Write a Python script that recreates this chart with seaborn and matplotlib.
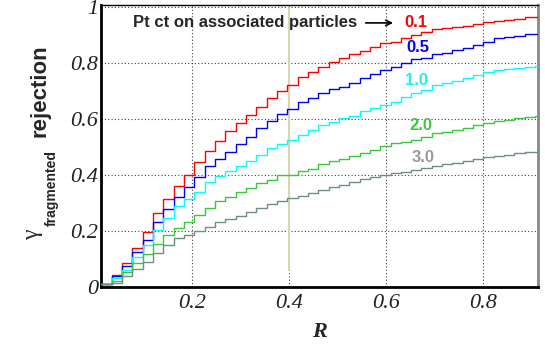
import numpy as np
import pandas as pd
import seaborn as sns
import matplotlib.pyplot as plt
from matplotlib.ticker import MultipleLocator, FixedLocator, FixedFormatter

sns.set_style("white")
plt.rcParams['font.family'] = ['Liberation Sans', 'DejaVu Sans']

# histogram binning on R (read from the step positions)
r_start = 0.0125
r_width = 0.0213

# rejection of fragmented photons per Pt cut on associated particles
cuts = ['0.1', '0.5', '1.0', '2.0', '3.0']
rej_01 = [0.01, 0.044, 0.086, 0.138, 0.196, 0.264, 0.314, 0.36, 0.40, 0.448,
          0.487, 0.523, 0.556, 0.588, 0.614, 0.643, 0.675, 0.702, 0.722, 0.75,
          0.769, 0.786, 0.804, 0.818, 0.832, 0.845, 0.857, 0.871, 0.877, 0.889,
          0.899, 0.912, 0.921, 0.925, 0.931, 0.934, 0.94, 0.946, 0.951, 0.956,
          0.959, 0.964, 0.966]
rej_05 = [0.01, 0.038, 0.074, 0.124, 0.169, 0.232, 0.28, 0.32, 0.357, 0.394,
          0.431, 0.457, 0.484, 0.511, 0.535, 0.568, 0.595, 0.617, 0.635, 0.663,
          0.675, 0.693, 0.707, 0.714, 0.729, 0.746, 0.761, 0.776, 0.788, 0.80,
          0.814, 0.82, 0.832, 0.838, 0.848, 0.856, 0.865, 0.877, 0.889, 0.893,
          0.897, 0.904, 0.905]
rej_10 = [0.01, 0.033, 0.062, 0.109, 0.149, 0.202, 0.246, 0.288, 0.315, 0.341,
          0.376, 0.395, 0.413, 0.434, 0.452, 0.473, 0.496, 0.511, 0.524, 0.542,
          0.56, 0.578, 0.59, 0.603, 0.613, 0.628, 0.639, 0.651, 0.663, 0.679,
          0.693, 0.703, 0.722, 0.729, 0.737, 0.746, 0.758, 0.767, 0.774, 0.78,
          0.784, 0.788, 0.79]
rej_20 = [0.01, 0.022, 0.053, 0.087, 0.119, 0.154, 0.185, 0.212, 0.234, 0.258,
          0.282, 0.306, 0.322, 0.338, 0.355, 0.371, 0.383, 0.399, 0.401, 0.413,
          0.423, 0.44, 0.449, 0.457, 0.468, 0.48, 0.491, 0.503, 0.514, 0.518,
          0.526, 0.537, 0.549, 0.554, 0.562, 0.569, 0.578, 0.586, 0.592, 0.598,
          0.603, 0.609, 0.612]
rej_30 = [0.01, 0.016, 0.038, 0.066, 0.09, 0.121, 0.15, 0.176, 0.187, 0.201,
          0.216, 0.231, 0.242, 0.254, 0.267, 0.282, 0.296, 0.307, 0.318, 0.325,
          0.336, 0.347, 0.356, 0.363, 0.374, 0.385, 0.392, 0.40, 0.408, 0.412,
          0.417, 0.425, 0.433, 0.44, 0.445, 0.452, 0.457, 0.464, 0.469, 0.473,
          0.478, 0.482, 0.484]
curves = [rej_01, rej_05, rej_10, rej_20, rej_30]

line_colors = ['#ff0000', '#0000ff', '#00ffff', '#3cc83c', '#6f8f7f']
text_colors = ['#ff0000', '#0000ff', '#22eeee', '#44c444', '#999999']
label_pos = [(0.661, 0.947), (0.665, 0.855), (0.663, 0.737), (0.671, 0.576), (0.677, 0.462)]

x_ticks = [0.2, 0.4, 0.6, 0.8]
x_labels = ['0.2', '0.4', '0.6', '0.8']
y_ticks = [0, 0.2, 0.4, 0.6, 0.8, 1.0]
y_labels = ['0', '0.2', '0.4', '0.6', '0.8', '1']
ref_r = 0.4

frames = []
for cut, vals in zip(cuts, curves):
    edges = r_start + r_width * np.arange(len(vals) + 1)
    frames.append(pd.DataFrame({'R': edges, 'rej': list(vals) + [vals[-1]], 'cut': cut}))
df = pd.concat(frames, ignore_index=True)

fig = plt.figure(figsize=(5.45, 3.54), dpi=100)
ax = fig.add_axes([101/545, 1 - 287/354, (538 - 101)/545, (287 - 5)/354])

ax.axvline(ref_r, ymin=0.06, ymax=0.99, color='#d8d5b2', lw=1.5, zorder=1)
sns.lineplot(data=df, x='R', y='rej', hue='cut', palette=dict(zip(cuts, line_colors)),
             drawstyle='steps-post', estimator=None, sort=False, legend=False,
             lw=1.0, ax=ax, zorder=3)

ax.set_xlim(0.012, 0.913)
ax.set_ylim(0, 1.008)

ax.xaxis.set_major_locator(FixedLocator(x_ticks))
ax.xaxis.set_major_formatter(FixedFormatter(x_labels))
ax.yaxis.set_major_locator(FixedLocator(y_ticks))
ax.yaxis.set_major_formatter(FixedFormatter(y_labels))
ax.xaxis.set_minor_locator(MultipleLocator(0.05))
ax.yaxis.set_minor_locator(MultipleLocator(0.05))

ax.grid(True, which='major', linestyle=(0, (1, 2)), color='#444444', lw=0.8, zorder=0)
ax.tick_params(axis='both', which='both', direction='in')
ax.tick_params(axis='x', which='major', length=8, width=1.3, color='black', pad=5)
ax.tick_params(axis='x', which='minor', length=4, width=1.2, color='black')
ax.tick_params(axis='y', which='major', length=10, width=1.5, color='#555555', pad=2)
ax.tick_params(axis='y', which='minor', length=6, width=1.5, color='#666666')
for lab in ax.get_xticklabels() + ax.get_yticklabels():
    lab.set_fontfamily('Liberation Serif')
    lab.set_fontstyle('italic')
    lab.set_fontsize(16)
    lab.set_color('#222222')

ax.spines['left'].set_linewidth(2)
ax.spines['bottom'].set_linewidth(2)
ax.spines['top'].set_linewidth(1)
ax.spines['top'].set_color('black')
ax.spines['right'].set_linewidth(2)
ax.spines['right'].set_color('#888888')
ax.spines['left'].set_color('black')
ax.spines['bottom'].set_color('black')

ax.set_xlabel('R', fontfamily='Liberation Serif', fontstyle='italic',
              fontweight='bold', fontsize=16)
ax.xaxis.set_label_coords(0.5, -0.124)
ax.set_ylabel('')

# y title: gamma with subscript, then "rejection"
fig.text(33/545, 1 - 235/354, 'γ', rotation=90, ha='center', va='center',
         fontsize=17, family=['Liberation Serif', 'DejaVu Serif'])
fig.text(52/545, 1 - 188/354, 'fragmented', rotation=90, ha='center', va='center',
         fontsize=10, fontweight='bold')
fig.text(40/545, 1 - 91/354, 'rejection', rotation=90, ha='center', va='center',
         fontsize=16, fontweight='bold')

ax.text(0.0777, 0.944, 'Pt ct on associated particles', fontsize=12,
        fontweight='bold', ha='left', va='center', zorder=5)
ax.annotate('', xy=(0.62, 0.944), xytext=(0.552, 0.944),
            arrowprops=dict(arrowstyle='->', lw=1.2, color='black'))
for cut, col, (lx, ly) in zip(cuts, text_colors, label_pos):
    ax.text(lx, ly, cut, color=col, fontsize=12, fontweight='bold',
            ha='center', va='center', zorder=5)

fig.savefig('out.png', dpi=100)
